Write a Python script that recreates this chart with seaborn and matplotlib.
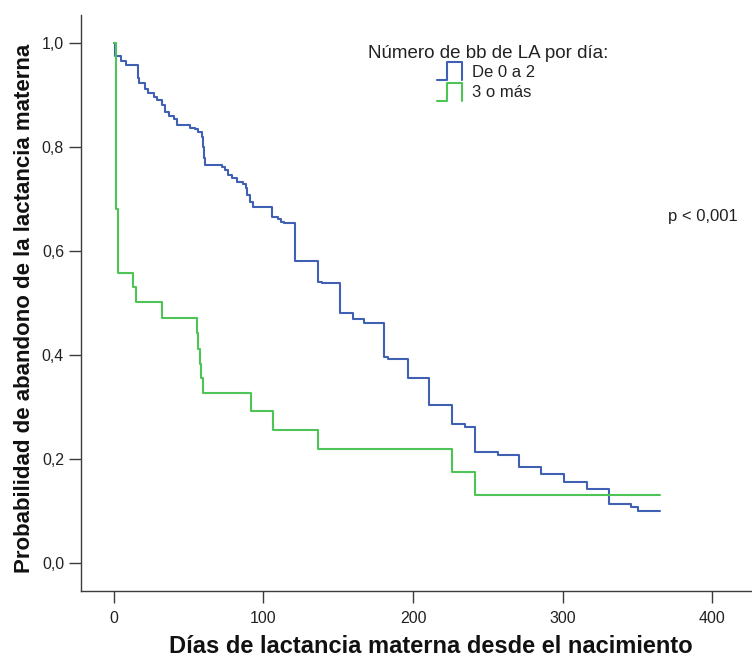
import numpy as np
import pandas as pd
import matplotlib
matplotlib.use("Agg")
import matplotlib.pyplot as plt
import seaborn as sns
from matplotlib.lines import Line2D
from matplotlib.legend_handler import HandlerBase
from matplotlib.ticker import FuncFormatter

# Kaplan-Meier curves (day of step, survival after step)
dias_0a2 = [0, 1, 5, 8, 16, 17, 21, 23, 27, 29, 32, 34, 37, 40, 42, 51, 54, 56,
            59, 59.5, 60, 61, 72, 74, 76, 79, 82, 86, 88, 89, 91, 93, 106, 110,
            112, 114, 121, 136.5, 139, 151, 160, 167, 180.6, 183, 196.7, 210.7,
            226, 235, 241.5, 257, 271, 285.6, 301, 316.4, 331, 345.8, 350.5, 365]
prob_0a2 = [1.0, 0.975, 0.966, 0.958, 0.933, 0.923, 0.911, 0.904, 0.896, 0.890,
            0.881, 0.867, 0.859, 0.854, 0.842, 0.836, 0.834, 0.829, 0.819, 0.800,
            0.778, 0.765, 0.761, 0.755, 0.746, 0.740, 0.732, 0.728, 0.721, 0.707,
            0.694, 0.684, 0.665, 0.662, 0.655, 0.653, 0.580, 0.541, 0.538, 0.480,
            0.470, 0.462, 0.397, 0.393, 0.356, 0.304, 0.268, 0.262, 0.214, 0.208,
            0.185, 0.171, 0.156, 0.143, 0.114, 0.108, 0.100, 0.100]

dias_3mas = [0, 1.5, 3, 13, 14.5, 32, 55.5, 56.2, 57.5, 58.3, 59.5, 91.5, 106.5,
             136.5, 226, 241.5, 365]
prob_3mas = [1.0, 0.680, 0.557, 0.530, 0.501, 0.472, 0.443, 0.412, 0.383, 0.355,
             0.326, 0.293, 0.256, 0.220, 0.175, 0.131, 0.131]

grupos = ["De 0 a 2", "3 o más"]
colores = ["#4060B4", "#4FC456"]

df = pd.concat([
    pd.DataFrame({"dias": dias_0a2, "prob": prob_0a2, "grupo": grupos[0]}),
    pd.DataFrame({"dias": dias_3mas, "prob": prob_3mas, "grupo": grupos[1]}),
], ignore_index=True)

sns.set_theme(style="white")
plt.rcParams["font.family"] = ["Liberation Sans", "DejaVu Sans"]


class StepHandler(HandlerBase):
    # little step-shaped icon like the SPSS legend
    def create_artists(self, legend, orig_handle, xdescent, ydescent, width,
                       height, fontsize, trans):
        x0, y0 = -xdescent, -ydescent
        xs = [x0, x0 + 0.4 * width, x0 + 0.4 * width, x0 + width, x0 + width]
        ys = [y0, y0, y0 + height, y0 + height, y0]
        ln = Line2D(xs, ys, color=orig_handle.get_color(), lw=1.5, transform=trans)
        return [ln]


fig = plt.figure(figsize=(7.52, 6.57), dpi=100)
ax = fig.add_axes([81 / 752, 1 - 591 / 657, 670 / 752, 576 / 657])

sns.lineplot(data=df, x="dias", y="prob", hue="grupo", hue_order=grupos,
             palette=colores, drawstyle="steps-post", estimator=None,
             sort=False, lw=1.5, legend=False, ax=ax)

ax.set_xlim(-22, 426)
ax.set_ylim(-0.054, 1.054)
ax.set_xticks([0, 100, 200, 300, 400])
ax.set_yticks([0.0, 0.2, 0.4, 0.6, 0.8, 1.0])
ax.yaxis.set_major_formatter(FuncFormatter(lambda v, _: f"{v:.1f}".replace(".", ",")))

for s in ["top", "right"]:
    ax.spines[s].set_visible(False)
for s in ["left", "bottom"]:
    ax.spines[s].set_color("#3c3c3c")
    ax.spines[s].set_linewidth(1.0)

ax.tick_params(axis="both", direction="out", length=8.6, width=1.0,
               color="#3c3c3c", labelsize=11.5, labelcolor="#222222")
ax.tick_params(axis="y", pad=3.6, left=True)
ax.tick_params(axis="x", pad=5.8, bottom=True)

ax.set_xlabel("Días de lactancia materna desde el nacimiento",
              fontsize=17, fontweight="bold", color="#111111")
ax.set_ylabel("Probabilidad de abandono de la lactancia materna",
              fontsize=16, fontweight="bold", color="#111111")
ax.xaxis.set_label_coords((431 - 81) / 670, -0.077)
ax.yaxis.set_label_coords(-0.068, (591 - 308) / 576)

# legend: title as text, items with step icons
ax.text((488 - 81) / 670, (591 - 53) / 576, "Número de bb de LA por día:",
        transform=ax.transAxes, ha="center", va="center", fontsize=13.5,
        color="#222222")
handles = [Line2D([], [], color=c) for c in colores]
ax.legend(handles, grupos, handler_map={Line2D: StepHandler()},
          loc="upper left", bbox_to_anchor=((437 - 81) / 670, (591 - 62) / 576),
          frameon=False, borderpad=0, borderaxespad=0, fontsize=12,
          handlelength=1.5, handleheight=1.3, labelspacing=0.15,
          handletextpad=0.6, labelcolor="#222222")

ax.text((668 - 81) / 670, (591 - 216) / 576, "p < 0,001", transform=ax.transAxes,
        ha="left", va="center", fontsize=12, color="#222222")

fig.savefig("out.png", dpi=100)
